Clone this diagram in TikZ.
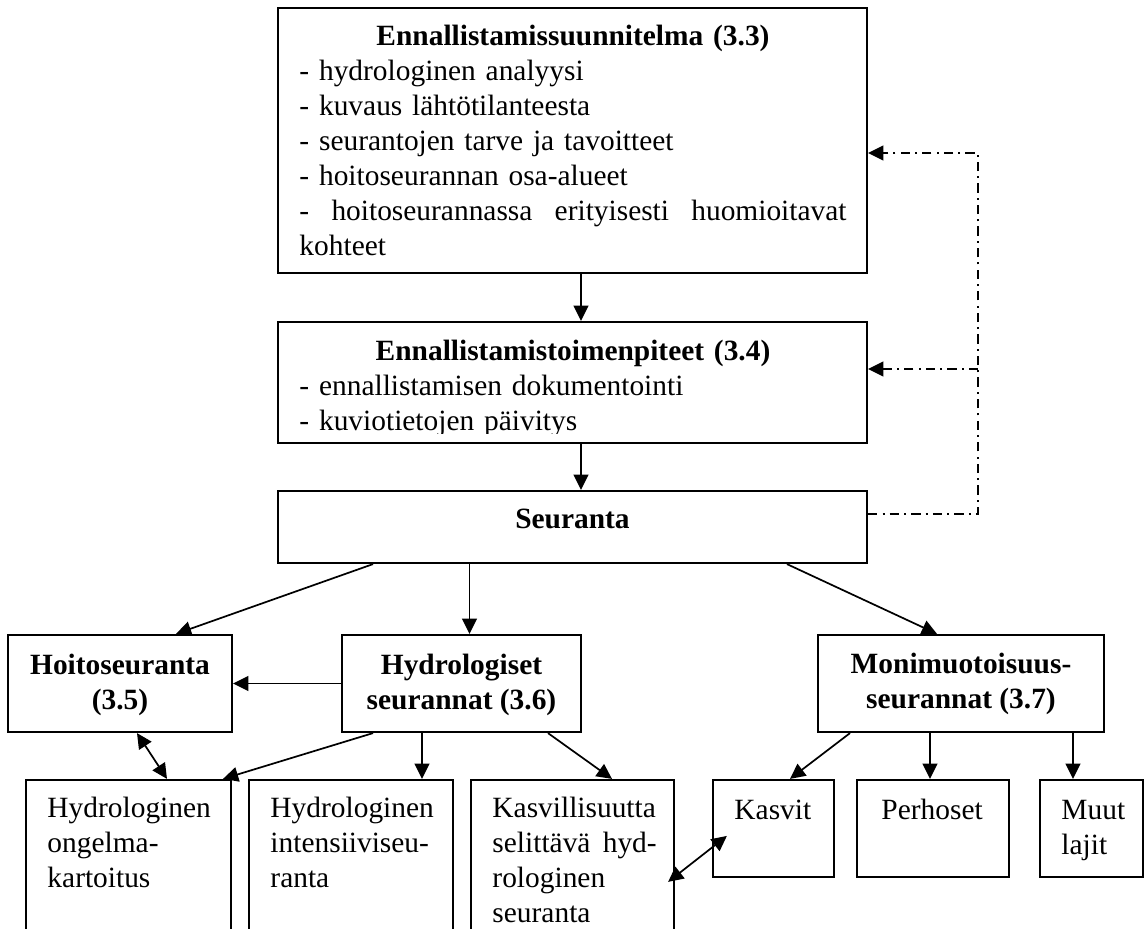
\documentclass[tikz,border=0pt]{standalone}
\usepackage{fontspec}
\setmainfont{Liberation Serif}
\usetikzlibrary{fit,calc,arrows.meta}
\newcommand\mystrut{\rule{0pt}{10pt}}
\begin{document}
\begin{tikzpicture}[x=0.408pt,y=-0.408pt,
  >={Triangle[length=6.2pt,width=6pt]},
  bx/.style={draw,line width=0.9pt,inner sep=0pt},
  txt/.style={inner sep=0pt,font=\fontsize{12}{14.3}\selectfont},
  txtb/.style={inner sep=0pt,font=\fontsize{12}{14.3}\selectfont\bfseries},
  arr/.style={line width=0.7pt,->},
  dbl/.style={line width=0.7pt,<->},
  dd/.style={line width=0.7pt,dash pattern=on 3.8pt off 2.1pt on 0.8pt off 2.1pt}]
\path[use as bounding box] (0,0) rectangle (1146,929);
\clip (0,0) rectangle (1146,929);

% boxes
\node[bx,fit={(278,8) (867,273)}] (plan) {};
\node[bx,fit={(278,322) (867,443)}] (toim) {};
\node[bx,fit={(278,491) (867,563)}] (seur) {};
\node[bx,fit={(8,635) (232,732)}] (hoito) {};
\node[bx,fit={(342,635) (581,732)}] (hydro) {};
\node[bx,fit={(818,635) (1104,732)}] (moni) {};
\node[bx,fit={(26,780) (231,945)}] (ongelma) {};
\node[bx,fit={(249,780) (453,945)}] (intens) {};
\node[bx,fit={(471,780) (674,945)}] (kasvill) {};
\node[bx,fit={(713,780) (834,877)}] (kasvit) {};
\node[bx,fit={(857,780) (1009,877)}] (perhoset) {};
\node[bx,fit={(1040,780) (1143,877)}] (muut) {};

% texts
\node[txt,anchor=north west,text width=223.2pt,align=left] (plan-t) at (299,20.5)
  {\makebox[223.2pt]{\mystrut\bfseries Ennallistamissuunnitelma (3.3)}\\
   - hydrologinen analyysi\\
   - kuvaus lähtötilanteesta\\
   - seurantojen tarve ja tavoitteet\\
   - hoitoseurannan osa-alueet\\
   \makebox[223.2pt][l]{- \hfill hoitoseurannassa \hfill erityisesti \hfill huomioitavat}\\
   kohteet};
\begin{scope}
  \clip (toim.north west) rectangle ($(toim.south east)+(0,-11)$);
  \node[txt,anchor=north west,text width=223.2pt,align=left] (toim-t) at (299,335.5)
    {\makebox[223.2pt]{\mystrut\bfseries Ennallistamistoimenpiteet (3.4)}\\
     - ennallistamisen dokumentointi\\
     - kuviotietojen päivitys};
\end{scope}
\node[txtb,anchor=base] (seur-t) at (572.5,528) {Seuranta};
\node[txtb,anchor=north,align=center] (hoito-t) at (120,649.5) {\mystrut Hoitoseuranta\\(3.5)};
\node[txtb,anchor=north,align=center] (hydro-t) at (461.5,649.5) {\mystrut Hydrologiset\\seurannat (3.6)};
\node[txtb,anchor=north,align=center] (moni-t) at (961,648.5) {\mystrut Monimuotoisuus-\\seurannat (3.7)};
\node[txt,anchor=north west,align=left] (ongelma-t) at (47,792.5) {\mystrut Hydrologinen\\ongelma-\\kartoitus};
\node[txt,anchor=north west,align=left] (intens-t) at (270,792.5) {\mystrut Hydrologinen\\intensiiviseu-\\ranta};
\node[txt,anchor=north west,text width=67pt,align=left] (kasvill-t) at (492,792.5)
  {\mystrut Kasvillisuutta\\ \makebox[67pt][l]{selittävä \hfill hyd-}\\ rologinen\\ seuranta};
\node[txt,anchor=base west] (kasvit-t) at (734,819) {Kasvit};
\node[txt,anchor=base west] (perhoset-t) at (881,819) {Perhoset};
\node[txt,anchor=north west,align=left] (muut-t) at (1061,794.5) {\mystrut Muut\\lajit};

% main flow
\draw[arr] ($(plan.south)+(8.5,0)$) -- ($(toim.north)+(8.5,0)$);
\draw[arr] ($(toim.south)+(8.5,0)$) -- ($(seur.north)+(8.5,0)$);

% feedback (dash-dot)
\coordinate (seurOut) at ($(seur.east)+(0,-13)$);
\coordinate (fb) at ($(seurOut)+(110,0)$);
\coordinate (planIn) at ($(plan.east)+(0,12.5)$);
\coordinate (toimIn) at ($(toim.east)+(0,-13.5)$);
\draw[dd,->] (seurOut) -- (fb) |- (planIn);
\draw[dd,->] (fb |- toimIn) -- (toimIn);

% from Seuranta
\draw[arr] ($(seur.south)+(-199.5,0)$) -- ($(hoito.north)+(56,0)$);
\draw[arr] ($(seur.south)+(-103,0)$) -- ($(hydro.north)+(8,0)$);
\draw[arr] ($(seur.south)+(214.5,0)$) -- ($(moni.north)+(-24,0)$);

% from Hydrologiset
\draw[arr] (hydro.west) -- (hoito.east);
\draw[dbl] ($(hoito.south)+(17,0)$) -- ($(ongelma.north)+(38.5,0)$);
\draw[arr] ($(hydro.south)+(-88.5,0)$) -- ($(ongelma.north)+(94.5,0)$);
\draw[arr] ($(hydro.south)+(-39.5,0)$) -- ($(intens.north)+(71,0)$);
\draw[arr] ($(hydro.south)+(86.5,0)$) -- ($(kasvill.north)+(39.5,0)$);

% from Monimuotoisuus
\draw[arr] ($(moni.south)+(-111,0)$) -- ($(kasvit.north)+(16.5,0)$);
\draw[arr] ($(moni.south)+(-31,0)$) -- ($(perhoset.north)+(-3,0)$);
\draw[arr] ($(moni.south)+(112,0)$) -- ($(muut.north)+(-18.5,0)$);

\draw[dbl] ($(kasvill.north east)+(-7,103)$) -- ($(kasvit.north west)+(15,57)$);
\end{tikzpicture}
\end{document}
